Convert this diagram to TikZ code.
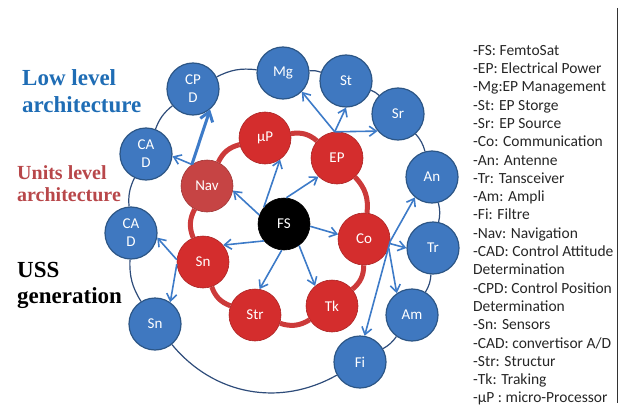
\documentclass[tikz,border=0pt]{standalone}
\usepackage{fontspec}
\setmainfont{Carlito}
\newfontfamily\headserif{Liberation Serif}[BoldFont={Liberation Serif Bold}]
\usepackage{tikz}
\usetikzlibrary{automata,positioning,arrows.meta}

\definecolor{lowblue}{HTML}{3F78C0}
\definecolor{lowedge}{HTML}{2C5686}
\definecolor{unitred}{HTML}{D42D2D}
\definecolor{navred}{HTML}{C64444}
\definecolor{ringred}{HTML}{CC3A3A}
\definecolor{ringblue}{HTML}{2E4C7A}
\definecolor{arrowblue}{HTML}{3D7BC8}
\definecolor{titleblue}{HTML}{1F6DB5}
\definecolor{titlered}{HTML}{B8474A}

\begin{document}
\begin{tikzpicture}[x=1pt, y=-1pt, >={Straight Barb[length=7pt, width=10pt]},
  low/.style={state, fill=lowblue, draw=lowedge, line width=1.2pt, minimum size=52pt, inner sep=0pt, text=white, align=center, font=\fontsize{15}{18}\selectfont},
  unit/.style={state, fill=unitred, draw=unitred!80!black, line width=0.6pt, minimum size=52pt, inner sep=0pt, text=white, font=\fontsize{15}{18}\selectfont},
  title/.style={anchor=north west, inner sep=0pt, align=left}]

\useasboundingbox (0,0) rectangle (621,412);

% titles
\node[title, text=titleblue, font=\headserif\bfseries\fontsize{23}{27}\selectfont] (lowtitle) at (22,69.5) {Low level\\architecture};
\node[title, text=titlered, font=\headserif\bfseries\fontsize{20}{22}\selectfont] (unittitle) at (17,165.5) {Units level\\architecture};
\node[title, text=black, font=\headserif\bfseries\fontsize{23}{26}\selectfont] (usstitle) at (17,262) {USS\\generation};

% femtosat
\node[unit, fill=black, draw=black] (fs) at (284,224) {FS};

% units level
\node[unit] (mp) at (265,138) {µP};
\node[unit] (ep) at (337,158) {EP};
\node[unit] (co) at (364,239) {Co};
\node[unit] (tk) at (332,306) {Tk};
\node[unit] (str) at (255,315) {Str};
\node[unit] (sn) at (203,262) {Sn};
\node[unit, fill=navred, draw=navred!80!black] (nav) at (207,186) {Nav};

% low level
\node[low] (cpd) at (193,89) {CP\\D};
\node[low] (mg) at (283,73) {Mg};
\node[low] (st) at (346,81) {St};
\node[low] (sr) at (398,114) {Sr};
\node[low] (an) at (432,177) {An};
\node[low] (tr) at (433,248) {Tr};
\node[low] (am) at (412,315) {Am};
\node[low] (fi) at (360,362) {Fi};
\node[low] (snb) at (155,324) {Sn};
\node[low] (cadl) at (131,233) {CA\\D};
\node[low] (cadu) at (146,154) {CA\\D};

\path[ringred, line width=5pt]
(mp) edge [bend left=25] (ep)
(ep) edge [bend left=25] (co)
(co) edge [bend left=25] (tk)
(tk) edge [bend left=25] (str)
(str) edge [bend left=25] (sn)
(sn) edge [bend left=25] (nav)
(nav) edge [bend left=25] (mp);

\path[ringblue, line width=1.2pt]
(cpd) edge [bend left=17] (mg)
(mg) edge [bend left=12] (st)
(st) edge [bend left=12] (sr)
(sr) edge [bend left=13] (an)
(an) edge [bend left=13] (tr)
(tr) edge [bend left=13] (am)
(am) edge [bend left=12] (fi)
(fi) edge [bend left=40] (snb)
(snb) edge [bend left=17] (cadl)
(cadl) edge [bend left=15] (cadu)
(cadu) edge [bend left=15] (cpd);

\path[->, arrowblue, line width=1.6pt]
(fs.140) edge (mp.-55)
(fs.85) edge (ep.-135)
(fs.160) edge (nav.-10)
(fs.-5) edge (co.170)
(fs.220) edge (sn.40)
(fs.-95) edge (str.80)
(fs.-55) edge (tk.130)
(nav.125) edge (cadu.-5)
(ep.95) edge (mg.-45)
(ep.95) edge (st.-90)
(ep.95) edge (sr.-140)
(sn.175) edge (cadl.-10)
(sn.185) edge (snb.55)
(co.-5) edge (an.-130)
(co.-5) edge (fi.80)
(co.-10) edge (tr.180)
(co.-20) edge (am.125);
\path[-{Straight Barb[length=9pt, width=13pt]}, arrowblue, line width=3pt]
(nav.125) edge (cpd.-50);

% legend
\node[anchor=north west, inner sep=0pt, align=left, text=black!85, font=\fontsize{15.5}{18.3}\selectfont] (legend) at (473,45)
{-FS: FemtoSat\\-EP: Electrical Power\\-Mg:EP Management\\-St: EP Storge\\-Sr: EP Source\\-Co: Communication\\-An: Antenne\\-Tr: Tansceiver\\-Am: Ampli\\-Fi: Filtre\\-Nav: Navigation\\-CAD: Control Attitude\\Determination\\-CPD: Control Position\\Determination\\-Sn: Sensors\\-CAD: convertisor A/D\\-Str: Structur\\-Tk: Traking\\-µP : micro-Processor};
\draw[black!80, line width=0.8pt] (617,8) -- (617,403);

\end{tikzpicture}
\end{document}
